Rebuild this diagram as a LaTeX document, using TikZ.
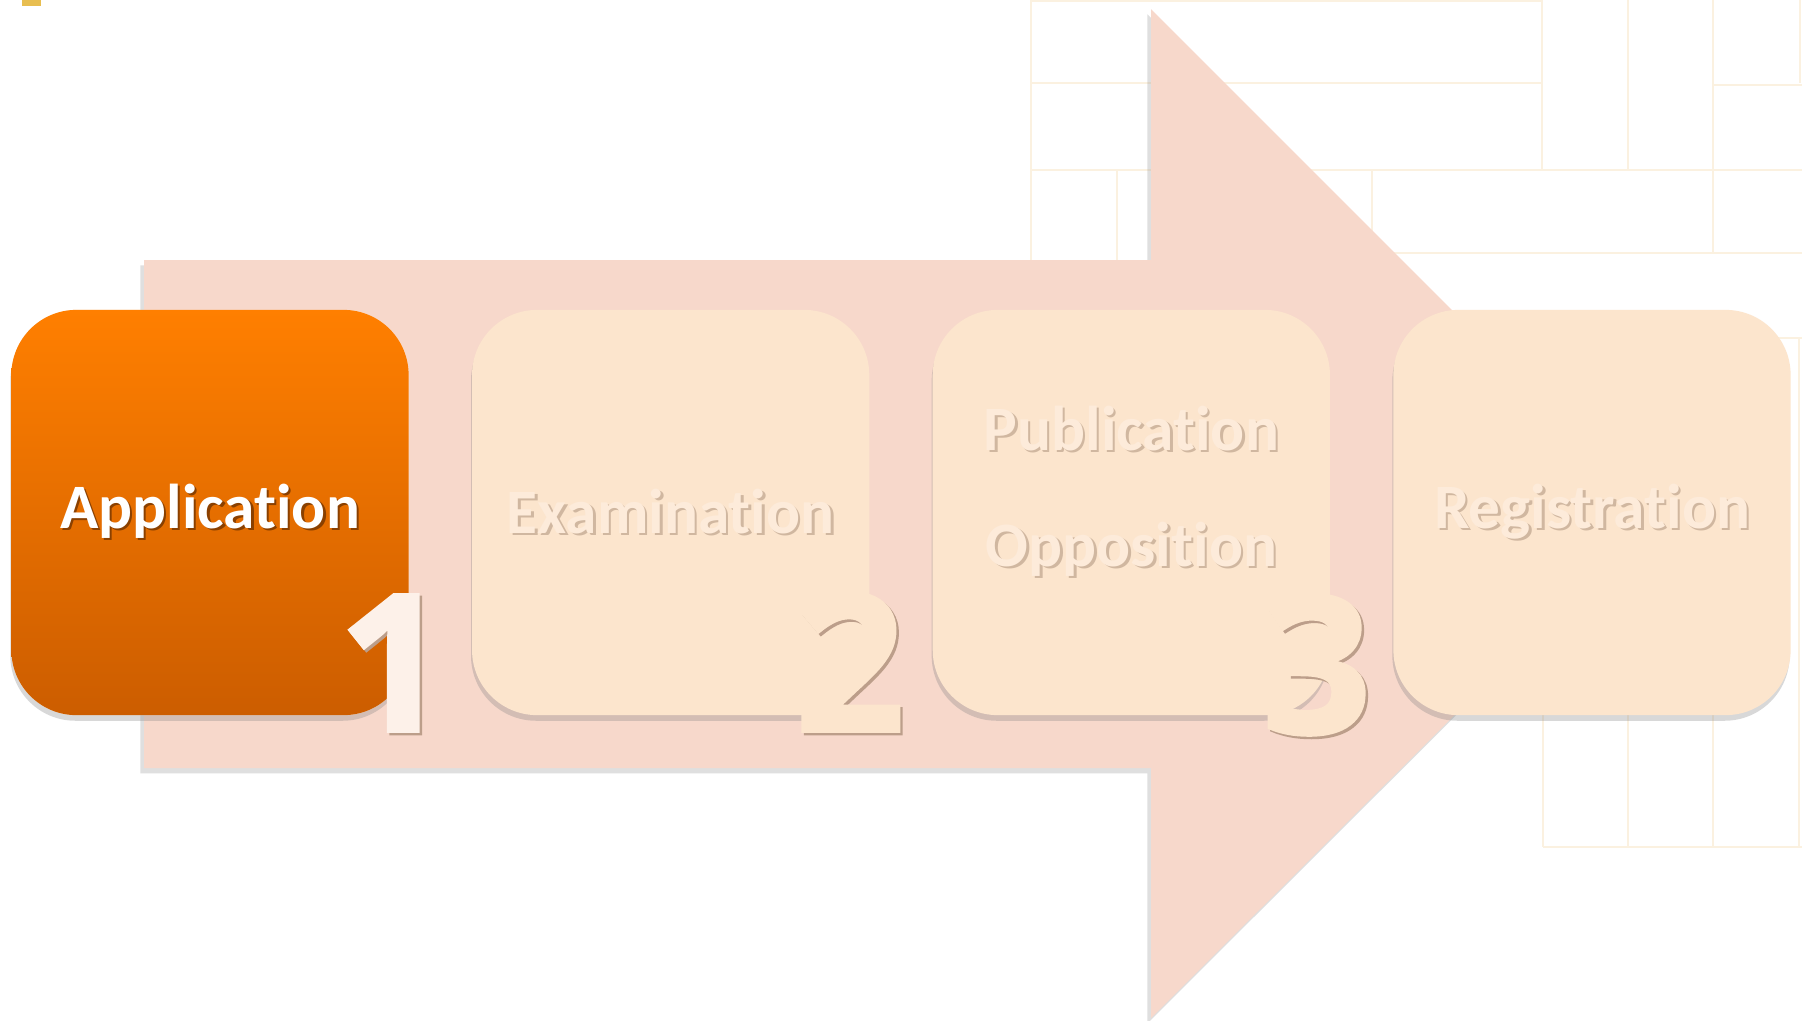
\documentclass[tikz,border=0pt]{standalone}
\usepackage{fontspec}
\setmainfont{Carlito}[Ligatures=NoCommon]
\newfontfamily\digitfont{Open Sans}[BoldFeatures={FakeBold=2.2}]
\usetikzlibrary{positioning,calc,shadows}
\definecolor{arrowpink}{HTML}{F7D8CB}
\definecolor{stepcream}{HTML}{FCE5CD}
\definecolor{textcream}{HTML}{FDEBDA}
\definecolor{embossshade}{HTML}{D0B7A0}
\definecolor{appshade}{HTML}{8A4000}
\definecolor{numshade}{HTML}{BC9E8A}
\definecolor{numone}{HTML}{FDF1E9}
\definecolor{gridcream}{HTML}{FBF1E0}
\definecolor{orangetop}{HTML}{FF7F00}
\definecolor{orangebottom}{HTML}{CC5D00}
\definecolor{markyellow}{HTML}{E8BE50}
\newcommand\embossed[2]{\rlap{\kern0.7pt\raisebox{-0.7pt}{\color{#1}#2}}#2}

\begin{document}
\begin{tikzpicture}[x=0.01cm,y=-0.01cm]
        \tikzset{stepbox/.style={rounded corners=0.65cm, minimum width=3.97cm,
                minimum height=4.05cm, inner sep=0pt, fill=stepcream, text=textcream,
                font=\fontsize{18}{22}\selectfont\bfseries,
                drop shadow={shadow xshift=-0.3pt, shadow yshift=-1.6pt, opacity=0.3}},
            firstbox/.style={stepbox, top color=orangetop, bottom color=orangebottom, text=white},
            num/.style={font=\fontsize{54}{54}\selectfont\digitfont\bfseries, inner sep=0pt, anchor=base},
            gridline/.style={draw=gridcream, line width=0.7pt}}
        \useasboundingbox (0,0) rectangle (1802,1020);
        \fill[white] (0,0) rectangle (1802,1020);
        \fill[markyellow] (22,0) rectangle (41,6);
        % background grid
        \draw[gridline] (1031,1) -- (1542,1) (1031,83) -- (1542,83) (1713,85) -- (1802,85)
            (1031,170) -- (1802,170) (1372,253) -- (1802,253) (1542,338) -- (1802,338)
            (1543,847) -- (1802,847);
        \draw[gridline] (1031,0) -- (1031,260) (1117,170) -- (1117,260) (1372,170) -- (1372,253)
            (1542,0) -- (1542,170) (1628,0) -- (1628,170) (1713,0) -- (1713,253) (1800,0) -- (1800,83);
        \foreach \x in {1543,1628,1713,1799}
            \draw[gridline] (\x,338) -- (\x,847);
        % big arrow
        \fill[arrowpink, drop shadow={shadow xshift=-1pt, shadow yshift=-1.5pt, opacity=0.25}]
            (144,260) -- (1151,260) -- (1151,9) -- (1656,514) -- (1151,1018) -- (1151,768)
            -- (144,768) -- cycle;
        % steps
        \node[firstbox] (app) at (210,512.5) {\embossed{appshade}{Application}};
        \node[stepbox, right=0.62cm of app] (exam) {\embossed{embossshade}{Examination}};
        \node[stepbox, right=0.62cm of exam] (pub) {};
        \node[stepbox, right=0.62cm of pub] (reg) {\embossed{embossshade}{Registration}};
        \node[text=textcream, font=\fontsize{18}{33}\selectfont\bfseries, align=center]
            (pubtext) at ([yshift=0.2cm]pub.center)
            {\embossed{embossshade}{Publication}\\\embossed{embossshade}{Opposition}};
        % numbers
        \node[num, text=numone] (one) at ($(app.south east)+(-16,15)$) {\embossed{numshade}{1}};
        \node[num, text=stepcream] (two) at ($(exam.south east)+(-20,15)$) {\embossed{numshade}{2}};
        \node[num, text=stepcream] (three) at ($(pub.south east)+(-14,17)$) {\embossed{numshade}{3}};
\end{tikzpicture}
\end{document}
